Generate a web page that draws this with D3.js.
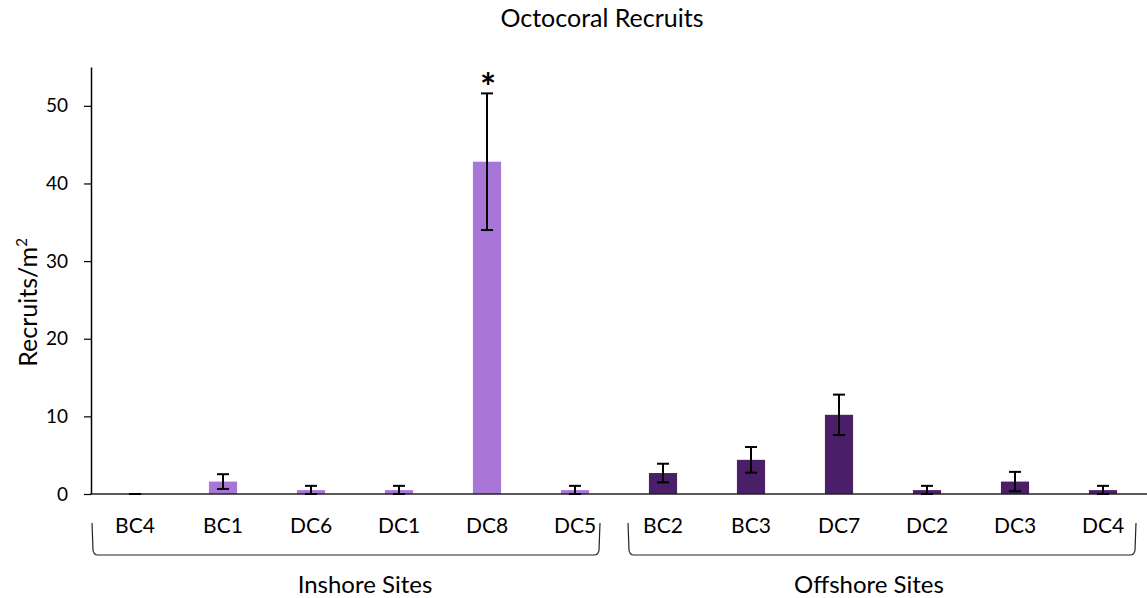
<!DOCTYPE html>
<html>
<head>
<meta charset="utf-8">
<script src="https://cdn.jsdelivr.net/npm/d3@7"></script>
<style>
  body { margin: 0; background: #ffffff; }
  svg { display: block; font-family: Lato, 'Open Sans', sans-serif; }
</style>
</head>
<body>
<div id="chart"></div>
<script>
// Octocoral recruits per site, bar chart with error bars

// Data
const sites = ['BC4', 'BC1', 'DC6', 'DC1', 'DC8', 'DC5', 'BC2', 'BC3', 'DC7', 'DC2', 'DC3', 'DC4'];
const groups = ['Inshore', 'Inshore', 'Inshore', 'Inshore', 'Inshore', 'Inshore',
                'Offshore', 'Offshore', 'Offshore', 'Offshore', 'Offshore', 'Offshore'];
const means = [0, 1.6, 0.5, 0.5, 42.8, 0.5, 2.7, 4.4, 10.2, 0.5, 1.6, 0.5];
const errors = [0, 0.95, 0.55, 0.55, 8.8, 0.55, 1.2, 1.65, 2.6, 0.55, 1.25, 0.55];
const yTicks = [0, 10, 20, 30, 40, 50];
const groupNames = ['Inshore', 'Offshore'];
const groupLabels = ['Inshore Sites', 'Offshore Sites'];
const significant = ['DC8'];

(function() {
  const fullWidth = 1147;
  const fullHeight = 598;
  const margin = { top: 67, right: 0, bottom: 104, left: 91 };
  const width = fullWidth - margin.left - margin.right;
  const height = fullHeight - margin.top - margin.bottom;

  const textColor = '#000000';
  const colorScale = d3.scaleOrdinal()
    .domain(groupNames)
    .range(['#A876D6', '#4A1F67']);

  const data = sites.map((s, i) => ({
    site: s,
    group: groups[i],
    mean: means[i],
    err: errors[i]
  }));

  const svg = d3.select('#chart')
    .append('svg')
    .attr('width', fullWidth)
    .attr('height', fullHeight);

  const g = svg.append('g')
    .attr('transform', `translate(${margin.left}, ${margin.top})`);

  const xScale = d3.scaleBand()
    .domain(sites)
    .range([0, width])
    .paddingInner(0.68)
    .paddingOuter(0.34);

  const yScale = d3.scaleLinear()
    .domain([0, 55])
    .range([height, 0]);

  // Y axis
  const yAxis = d3.axisLeft(yScale)
    .tickValues(yTicks)
    .tickSize(7)
    .tickPadding(16)
    .tickSizeOuter(0);

  const yAxisGroup = g.append('g')
    .attr('class', 'y-axis')
    .call(yAxis);

  yAxisGroup.select('.domain')
    .attr('stroke', textColor)
    .attr('stroke-width', 1.5);

  yAxisGroup.selectAll('.tick line')
    .attr('stroke', textColor)
    .attr('stroke-width', 1.2);

  yAxisGroup.selectAll('.tick text')
    .style('font-family', 'Lato, sans-serif')
    .style('font-size', '19px')
    .style('fill', textColor);

  // Bars
  g.selectAll('.bar')
    .data(data)
    .enter()
    .append('rect')
    .attr('class', 'bar')
    .attr('x', d => xScale(d.site))
    .attr('y', d => yScale(d.mean))
    .attr('width', xScale.bandwidth())
    .attr('height', d => yScale(0) - yScale(d.mean))
    .attr('fill', d => colorScale(d.group));

  // X axis line (drawn over the bars)
  g.append('line')
    .attr('x1', -1)
    .attr('x2', width)
    .attr('y1', yScale(0))
    .attr('y2', yScale(0))
    .attr('stroke', '#222222')
    .attr('stroke-width', 1.5);

  // Error bars
  const capHalf = 6;
  const errGroup = g.selectAll('.err')
    .data(data)
    .enter()
    .append('g')
    .attr('class', 'err')
    .attr('stroke', textColor)
    .attr('stroke-width', 2);

  const cx = d => xScale(d.site) + xScale.bandwidth() / 2;
  const lo = d => yScale(Math.max(0, d.mean - d.err));
  const hi = d => yScale(d.mean + d.err);

  errGroup.append('line')
    .attr('x1', cx).attr('x2', cx)
    .attr('y1', lo).attr('y2', hi);

  errGroup.append('line')
    .attr('x1', d => cx(d) - capHalf).attr('x2', d => cx(d) + capHalf)
    .attr('y1', hi).attr('y2', hi);

  errGroup.append('line')
    .attr('x1', d => cx(d) - capHalf).attr('x2', d => cx(d) + capHalf)
    .attr('y1', lo).attr('y2', lo);

  // Significance mark
  g.selectAll('.star')
    .data(data.filter(d => significant.includes(d.site)))
    .enter()
    .append('text')
    .attr('class', 'star')
    .attr('x', d => cx(d) + 1)
    .attr('y', d => hi(d) + 8)
    .attr('text-anchor', 'middle')
    .style('font-size', '38px')
    .style('font-weight', '700')
    .style('fill', textColor)
    .text('*');

  // Site labels
  g.selectAll('.site-label')
    .data(data)
    .enter()
    .append('text')
    .attr('class', 'site-label')
    .attr('x', cx)
    .attr('y', height + 39)
    .attr('text-anchor', 'middle')
    .style('font-size', '21px')
    .style('fill', textColor)
    .text(d => d.site);

  // Braces under each group (the text boxes sit a little off-centre, as in the original)
  const braceTop = height + 29;
  const braceBottom = height + 61;
  const bracePad = [[43, 25], [35, 33]];
  const labelShift = [19, -13];

  groupNames.forEach((name, i) => {
    const members = data.filter(d => d.group === name);
    const x0 = cx(members[0]) - bracePad[i][0];
    const x1 = cx(members[members.length - 1]) + bracePad[i][1];

    const path = d3.path();
    path.moveTo(x0, braceTop);
    path.lineTo(x0 + 1, braceBottom - 5);
    path.quadraticCurveTo(x0 + 1.5, braceBottom, x0 + 6, braceBottom);
    path.lineTo(x1 - 6, braceBottom);
    path.quadraticCurveTo(x1 - 1.5, braceBottom, x1 - 1, braceBottom - 5);
    path.lineTo(x1, braceTop);

    g.append('path')
      .attr('d', path.toString())
      .attr('fill', 'none')
      .attr('stroke', '#222222')
      .attr('stroke-width', 1.2);

    g.append('text')
      .attr('x', (x0 + x1) / 2 + labelShift[i])
      .attr('y', height + 99)
      .attr('text-anchor', 'middle')
      .style('font-size', '24px')
      .style('fill', textColor)
      .text(groupLabels[i]);
  });

  // Y axis title
  const yTitle = svg.append('text')
    .attr('transform', `translate(37, ${margin.top + height / 2 + 22}) rotate(-90)`)
    .attr('text-anchor', 'middle')
    .style('font-size', '25px')
    .style('fill', textColor);
  yTitle.append('tspan').text('Recruits/m');
  yTitle.append('tspan')
    .attr('dy', -10)
    .style('font-size', '15px')
    .text('2');

  // Chart title
  svg.append('text')
    .attr('x', 602)
    .attr('y', 27)
    .attr('text-anchor', 'middle')
    .style('font-size', '25px')
    .style('fill', textColor)
    .text('Octocoral Recruits');
})();
</script>
</body>
</html>
